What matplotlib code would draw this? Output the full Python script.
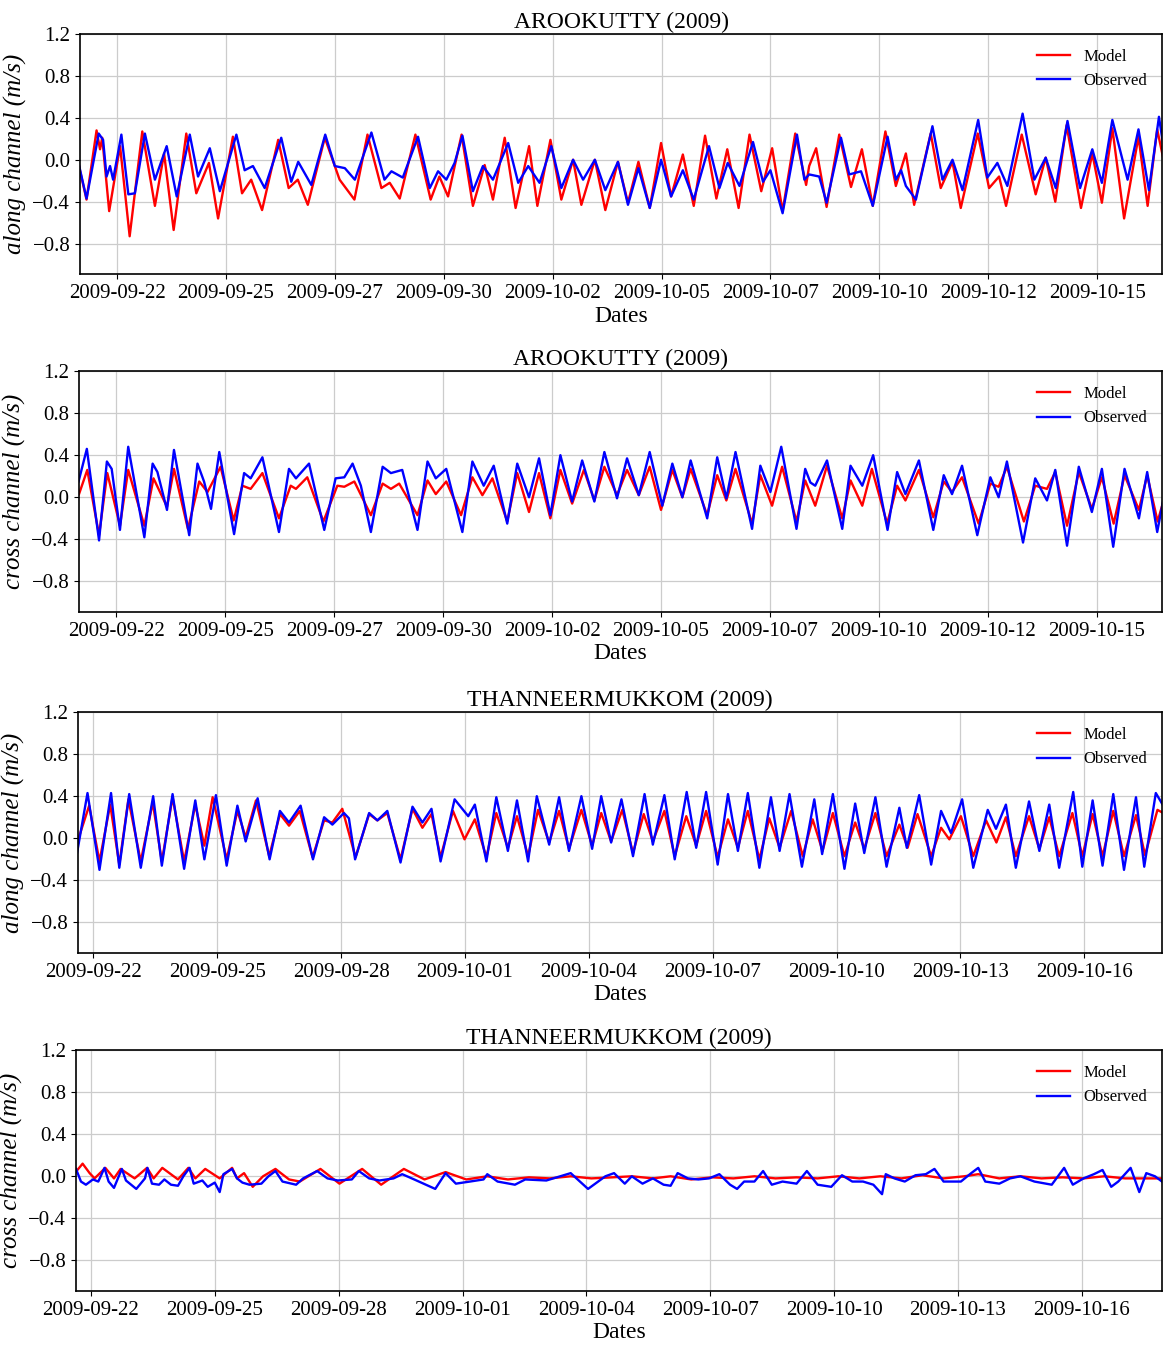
import numpy as np
import pandas as pd
import matplotlib
matplotlib.use("Agg")
import matplotlib.pyplot as plt
import matplotlib.dates as mdates

plt.rcParams['font.family'] = ['Liberation Serif', 'DejaVu Serif']
plt.rcParams['axes.unicode_minus'] = True

# times are days after 2009-09-22 00:00, values in m/s
T0 = pd.Timestamp("2009-09-22")

# --- AROOKUTTY, along channel ---
p1_model_t = [-0.39, -0.20, 0.03, 0.11, 0.16, 0.32, 0.57, 0.79, 1.08, 1.37, 1.58, 1.80, 2.09, 2.32,
              2.61, 2.82, 3.16, 3.37, 3.58, 3.83, 4.20, 4.44, 4.65, 4.88, 5.27, 5.61, 5.95, 6.25,
              6.57, 6.76, 6.99, 7.35, 7.70, 7.90, 8.10, 8.41, 8.67, 8.94, 9.13, 9.40, 9.65, 9.96,
              10.15, 10.45, 10.70, 10.97, 11.16, 11.47, 11.71, 12.00, 12.23, 12.47, 12.73, 12.99,
              13.22, 13.49, 13.74, 14.00, 14.26, 14.51, 14.77, 15.02, 15.29, 15.54, 15.78, 16.07,
              16.32, 16.39, 16.55, 16.79, 17.08, 17.35, 17.60, 17.85, 18.14, 18.38, 18.61, 18.80,
              19.18, 19.41, 19.68, 19.87, 20.26, 20.52, 20.75, 20.91, 21.27, 21.59, 21.82, 22.04,
              22.30, 22.63, 22.89, 23.11, 23.35, 23.62, 23.95, 24.16, 24.38, 24.51]
p1_model_v = [-0.03, -0.38, 0.28, 0.10, 0.21, -0.49, 0.13, -0.73, 0.27, -0.44, 0.06, -0.67, 0.25, -0.32,
              -0.03, -0.56, 0.22, -0.32, -0.19, -0.48, 0.19, -0.27, -0.19, -0.43, 0.21, -0.19, -0.38, 0.24,
              -0.27, -0.22, -0.37, 0.24, -0.38, -0.16, -0.35, 0.24, -0.44, -0.05, -0.38, 0.21, -0.46, 0.13,
              -0.44, 0.19, -0.38, 0.00, -0.43, 0.00, -0.48, -0.02, -0.41, -0.02, -0.46, 0.16,
              -0.35, 0.05, -0.44, 0.23, -0.37, 0.10, -0.46, 0.24, -0.30, 0.11, -0.49, 0.25,
              -0.24, -0.06, 0.11, -0.45, 0.24, -0.26, 0.10, -0.44, 0.27, -0.25, 0.06, -0.43,
              0.25, -0.27, -0.02, -0.46, 0.25, -0.27, -0.16, -0.44, 0.24, -0.33, 0.02, -0.40,
              0.33, -0.46, 0.06, -0.41, 0.30, -0.56, 0.22, -0.44, 0.29, 0.03]
p1_obs_t = [-0.39, -0.20, 0.08, 0.18, 0.26, 0.34, 0.41, 0.60, 0.76, 0.91, 1.14, 1.37, 1.64, 1.87,
            2.17, 2.36, 2.63, 2.86, 3.24, 3.43, 3.62, 3.89, 4.27, 4.50, 4.66, 4.96, 5.28, 5.50,
            5.73, 5.96, 6.34, 6.64, 6.80, 7.06, 7.41, 7.68, 7.87, 8.06, 8.25, 8.43, 8.67, 8.90,
            9.13, 9.48, 9.71, 9.94, 10.20, 10.47, 10.70, 10.97, 11.20, 11.47, 11.71, 12.00, 12.23,
            12.47, 12.73, 12.99, 13.22, 13.49, 13.74, 14.09, 14.33, 14.52, 14.79, 15.10, 15.33,
            15.50, 15.78, 16.11, 16.28, 16.39, 16.62, 16.79, 17.12, 17.31, 17.58, 17.85, 18.19,
            18.38, 18.50, 18.61, 18.84, 19.22, 19.45, 19.68, 19.91, 20.27, 20.48, 20.71, 20.94,
            21.29, 21.56, 21.82, 22.05, 22.32, 22.61, 22.89, 23.11, 23.35, 23.70, 23.95, 24.19,
            24.42, 24.51]
p1_obs_v = [-0.02, -0.37, 0.25, 0.19, -0.16, -0.06, -0.19, 0.24, -0.33, -0.32, 0.25, -0.19, 0.13, -0.35,
            0.24, -0.16, 0.11, -0.30, 0.24, -0.10, -0.06, -0.27, 0.21, -0.21, -0.02, -0.24, 0.24, -0.06,
            -0.08, -0.19, 0.26, -0.19, -0.11, -0.17, 0.22, -0.27, -0.11, -0.19, -0.03, 0.23, -0.30, -0.06,
            -0.19, 0.16, -0.22, -0.06, -0.22, 0.13, -0.27, 0.00, -0.19, 0.00, -0.29, -0.02, -0.43,
            -0.08, -0.46, 0.00, -0.35, -0.10, -0.38, 0.13, -0.27, -0.03, -0.25, 0.17, -0.21,
            -0.10, -0.51, 0.24, -0.19, -0.14, -0.16, -0.41, 0.21, -0.14, -0.11, -0.44, 0.22,
            -0.19, -0.10, -0.25, -0.38, 0.32, -0.19, 0.00, -0.29, 0.38, -0.17, -0.03, -0.25,
            0.44, -0.19, 0.02, -0.27, 0.37, -0.27, 0.10, -0.22, 0.38, -0.19, 0.29, -0.29,
            0.41, 0.16]

# --- AROOKUTTY, cross channel ---
p2_model_t = [-0.36, -0.17, 0.10, 0.29, 0.58, 0.77, 1.14, 1.35, 1.66, 1.82, 2.14, 2.40, 2.59, 2.89,
              3.19, 3.39, 3.58, 3.85, 4.23, 4.50, 4.62, 4.88, 5.25, 5.57, 5.73, 5.96, 6.34, 6.61,
              6.80, 6.99, 7.41, 7.64, 7.83, 8.07, 8.41, 8.67, 8.90, 9.13, 9.47, 9.70, 9.97, 10.20,
              10.46, 10.69, 10.96, 11.23, 11.47, 11.70, 11.99, 12.22, 12.49, 12.74, 13.00, 13.26,
              13.49, 13.68, 14.06, 14.29, 14.50, 14.71, 15.09, 15.28, 15.55, 15.78, 16.11, 16.31,
              16.54, 16.81, 17.16, 17.35, 17.62, 17.84, 18.19, 18.42, 18.61, 18.92, 19.25, 19.49,
              19.68, 19.91, 20.29, 20.56, 20.75, 20.94, 21.33, 21.59, 21.86, 22.05, 22.32, 22.59,
              22.89, 23.12, 23.39, 23.64, 23.97, 24.16, 24.40, 24.55]
p2_model_v = [0.03, 0.26, -0.36, 0.23, -0.27, 0.26, -0.27, 0.18, -0.09, 0.27, -0.30, 0.15, 0.05, 0.29,
              -0.22, 0.11, 0.08, 0.23, -0.20, 0.11, 0.08, 0.19, -0.23, 0.11, 0.10, 0.15, -0.17, 0.13,
              0.08, 0.13, -0.17, 0.16, 0.03, 0.15, -0.17, 0.19, 0.02, 0.18, -0.23, 0.23, -0.14, 0.23,
              -0.20, 0.26, -0.06, 0.26, -0.03, 0.29, 0.02, 0.26, 0.02, 0.29, -0.12, 0.26,
              0.00, 0.27, -0.17, 0.21, -0.03, 0.27, -0.25, 0.21, -0.08, 0.29, -0.23, 0.16,
              -0.08, 0.30, -0.20, 0.16, -0.08, 0.27, -0.25, 0.11, -0.03, 0.26, -0.19, 0.15,
              0.05, 0.19, -0.25, 0.13, 0.10, 0.29, -0.23, 0.11, 0.08, 0.24, -0.27, 0.24,
              -0.11, 0.19, -0.25, 0.21, -0.12, 0.21, -0.23, -0.01]
p2_obs_t = [-0.37, -0.18, 0.10, 0.28, 0.39, 0.58, 0.77, 1.14, 1.33, 1.44, 1.66, 1.82, 2.17, 2.36,
            2.51, 2.67, 2.86, 3.20, 3.43, 3.58, 3.85, 4.23, 4.46, 4.62, 4.92, 5.27, 5.53, 5.73,
            5.92, 6.11, 6.34, 6.61, 6.80, 7.06, 7.41, 7.64, 7.83, 8.07, 8.44, 8.67, 8.93, 9.16,
            9.47, 9.70, 9.97, 10.20, 10.46, 10.69, 10.96, 11.19, 11.47, 11.70, 11.99, 12.22, 12.49,
            12.74, 13.03, 13.26, 13.49, 13.68, 14.06, 14.29, 14.50, 14.71, 15.09, 15.28, 15.51,
            15.76, 16.11, 16.31, 16.43, 16.54, 16.81, 17.16, 17.35, 17.62, 17.87, 18.20, 18.42,
            18.61, 18.92, 19.25, 19.49, 19.68, 19.91, 20.26, 20.56, 20.75, 20.94, 21.31, 21.59,
            21.86, 22.05, 22.32, 22.59, 22.89, 23.12, 23.38, 23.64, 23.97, 24.16, 24.39, 24.55]
p2_obs_v = [0.15, 0.46, -0.41, 0.34, 0.27, -0.31, 0.48, -0.38, 0.32, 0.24, -0.12, 0.45, -0.36, 0.32,
            0.15, -0.11, 0.43, -0.35, 0.23, 0.18, 0.38, -0.33, 0.27, 0.18, 0.32, -0.31, 0.18, 0.19,
            0.32, 0.11, -0.33, 0.29, 0.23, 0.26, -0.31, 0.34, 0.18, 0.27, -0.33, 0.34, 0.11, 0.30,
            -0.25, 0.32, 0.00, 0.37, -0.17, 0.40, -0.04, 0.35, -0.04, 0.43, -0.01, 0.37, 0.02,
            0.43, -0.08, 0.32, 0.00, 0.35, -0.20, 0.38, -0.01, 0.43, -0.30, 0.30, 0.05,
            0.48, -0.30, 0.27, 0.14, 0.11, 0.35, -0.30, 0.30, 0.11, 0.40, -0.31, 0.24,
            0.03, 0.35, -0.31, 0.21, 0.03, 0.30, -0.36, 0.19, 0.00, 0.34, -0.43, 0.18,
            -0.03, 0.26, -0.46, 0.29, -0.14, 0.27, -0.47, 0.27, -0.20, 0.24, -0.33, 0.02]

# --- THANNEERMUKKOM, along channel ---
p3_model_t = [-0.42, -0.34, -0.10, 0.15, 0.41, 0.63, 0.85, 1.15, 1.44, 1.66, 1.92, 2.20, 2.47, 2.69,
              2.89, 3.23, 3.49, 3.69, 3.94, 4.26, 4.52, 4.74, 5.00, 5.31, 5.59, 5.79, 6.03, 6.35,
              6.68, 6.88, 7.12, 7.44, 7.73, 7.97, 8.19, 8.41, 8.71, 8.99, 9.24, 9.52, 9.76, 10.04,
              10.26, 10.53, 10.77, 11.04, 11.28, 11.52, 11.82, 12.08, 12.30, 12.54, 12.81, 13.07,
              13.33, 13.55, 13.83, 14.08, 14.36, 14.60, 14.84, 15.12, 15.37, 15.61, 15.85, 16.13,
              16.37, 16.62, 16.90, 17.18, 17.42, 17.66, 17.91, 18.19, 18.45, 18.67, 18.94, 19.21,
              19.52, 19.72, 19.96, 20.29, 20.53, 20.73, 21.01, 21.31, 21.62, 21.87, 22.10, 22.34,
              22.66, 22.91, 23.15, 23.39, 23.71, 23.95, 24.20, 24.44, 24.70, 24.96, 25.25, 25.47,
              25.77, 25.91]
p3_model_v = [-0.17, 0.02, 0.31, -0.22, 0.32, -0.25, 0.37, -0.22, 0.34, -0.22, 0.39, -0.22, 0.32, -0.07,
              0.39, -0.20, 0.26, 0.01, 0.36, -0.17, 0.23, 0.12, 0.26, -0.18, 0.17, 0.15, 0.28, -0.18,
              0.23, 0.17, 0.24, -0.20, 0.28, 0.10, 0.23, -0.18, 0.26, -0.01, 0.18, -0.18, 0.24, -0.09,
              0.21, -0.17, 0.27, -0.04, 0.26, -0.10, 0.27, -0.07, 0.24, -0.03, 0.27, -0.14,
              0.23, -0.03, 0.26, -0.17, 0.21, -0.07, 0.26, -0.18, 0.18, -0.09, 0.26, -0.20,
              0.19, -0.09, 0.26, -0.17, 0.18, -0.12, 0.24, -0.17, 0.15, -0.10, 0.24, -0.17,
              0.13, -0.09, 0.23, -0.17, 0.10, -0.01, 0.21, -0.17, 0.17, -0.04, 0.20, -0.17,
              0.21, -0.10, 0.20, -0.17, 0.24, -0.17, 0.23, -0.17, 0.26, -0.17, 0.22, -0.16,
              0.27, 0.24]
p3_obs_t = [-0.42, -0.14, 0.15, 0.43, 0.63, 0.87, 1.15, 1.45, 1.66, 1.92, 2.20, 2.47, 2.69, 2.97,
            3.23, 3.49, 3.69, 3.98, 4.27, 4.52, 4.74, 5.02, 5.32, 5.59, 5.79, 6.07, 6.19, 6.34,
            6.68, 6.88, 7.12, 7.44, 7.73, 7.97, 8.19, 8.41, 8.75, 9.08, 9.24, 9.52, 9.76, 10.04,
            10.26, 10.53, 10.74, 11.04, 11.28, 11.52, 11.82, 12.08, 12.30, 12.54, 12.79, 13.07,
            13.35, 13.55, 13.83, 14.08, 14.37, 14.60, 14.84, 15.12, 15.37, 15.61, 15.85, 16.13,
            16.41, 16.62, 16.86, 17.16, 17.46, 17.65, 17.91, 18.19, 18.45, 18.67, 18.94, 19.21,
            19.52, 19.70, 20.00, 20.29, 20.53, 20.77, 21.04, 21.31, 21.66, 21.86, 22.10, 22.34,
            22.66, 22.91, 23.15, 23.39, 23.73, 23.95, 24.20, 24.44, 24.70, 24.96, 25.25, 25.45,
            25.73, 25.91]
p3_obs_v = [-0.20, 0.43, -0.30, 0.43, -0.28, 0.42, -0.28, 0.40, -0.26, 0.42, -0.29, 0.36, -0.20, 0.41,
            -0.26, 0.31, -0.03, 0.38, -0.20, 0.26, 0.15, 0.31, -0.20, 0.20, 0.13, 0.24, 0.19, -0.20,
            0.24, 0.17, 0.26, -0.23, 0.30, 0.15, 0.28, -0.22, 0.37, 0.21, 0.32, -0.22, 0.39, -0.12,
            0.36, -0.22, 0.40, -0.06, 0.39, -0.12, 0.40, -0.10, 0.40, -0.04, 0.37, -0.17,
            0.42, -0.06, 0.41, -0.20, 0.44, -0.09, 0.44, -0.25, 0.42, -0.12, 0.43, -0.28,
            0.39, -0.12, 0.42, -0.27, 0.37, -0.15, 0.42, -0.29, 0.33, -0.14, 0.39, -0.27,
            0.29, -0.09, 0.41, -0.25, 0.26, 0.05, 0.37, -0.28, 0.27, 0.09, 0.32, -0.28,
            0.35, -0.12, 0.32, -0.28, 0.44, -0.27, 0.36, -0.26, 0.42, -0.30, 0.39, -0.27,
            0.43, 0.31]

# --- THANNEERMUKKOM, cross channel ---
p4_model_t = [-0.41, -0.20, -0.03, 0.09, 0.35, 0.56, 0.72, 1.06, 1.36, 1.52, 1.73, 2.11, 2.36, 2.53,
              2.77, 3.12, 3.42, 3.54, 3.71, 3.92, 4.17, 4.47, 4.80, 5.06, 5.56, 6.02, 6.57, 7.03,
              7.58, 8.08, 8.59, 9.09, 9.60, 10.10, 10.61, 11.11, 11.62, 12.12, 12.63, 13.10, 13.61,
              14.04, 14.54, 15.05, 15.56, 16.07, 16.58, 17.09, 17.60, 18.10, 18.61, 19.12, 19.63,
              20.14, 20.65, 21.15, 21.49, 22.00, 22.51, 23.02, 23.53, 24.04, 24.54, 25.05, 25.56,
              25.94]
p4_model_v = [0.02, 0.12, 0.03, -0.02, 0.08, -0.02, 0.07, -0.02, 0.08, -0.02, 0.08, -0.03, 0.08, -0.02,
              0.07, -0.02, 0.08, -0.02, 0.03, -0.10, 0.00, 0.07, -0.03, -0.05, 0.07, -0.07, 0.07, -0.08,
              0.07, -0.03, 0.04, -0.03, 0.00, -0.03, -0.01, -0.02, 0.00, -0.02, -0.01, 0.00, -0.02,
              0.00, -0.03, -0.01, -0.02, 0.00, -0.02, -0.01, -0.02, 0.00, -0.02, 0.00, -0.02,
              0.01, -0.02, 0.00, 0.02, -0.02, 0.00, -0.02, -0.01, -0.02, 0.00, -0.02, -0.02,
              -0.02]
p4_obs_t = [-0.36, -0.24, -0.12, 0.05, 0.18, 0.33, 0.43, 0.56, 0.75, 0.85, 1.10, 1.31, 1.37, 1.48,
            1.65, 1.78, 1.94, 2.11, 2.24, 2.39, 2.49, 2.70, 2.83, 3.00, 3.12, 3.21, 3.42, 3.54,
            3.67, 3.84, 4.13, 4.30, 4.47, 4.64, 4.97, 5.14, 5.48, 5.73, 5.98, 6.32, 6.49, 6.74,
            6.99, 7.33, 7.54, 7.83, 8.00, 8.34, 8.59, 8.84, 9.18, 9.51, 9.60, 9.85, 10.27, 10.52,
            11.03, 11.62, 12.04, 12.46, 12.67, 12.93, 13.10, 13.36, 13.61, 13.87, 14.04, 14.21,
            14.46, 14.71, 14.97, 15.22, 15.48, 15.65, 15.82, 16.07, 16.28, 16.49, 16.75, 17.09,
            17.34, 17.60, 17.93, 18.19, 18.44, 18.70, 18.95, 19.16, 19.25, 19.46, 19.71, 19.97,
            20.22, 20.43, 20.65, 21.07, 21.32, 21.49, 21.66, 22.00, 22.26, 22.51, 22.85, 23.27,
            23.57, 23.78, 24.04, 24.29, 24.50, 24.71, 24.88, 25.18, 25.39, 25.56, 25.77, 25.94]
p4_obs_v = [0.07, -0.05, -0.08, -0.03, -0.05, 0.08, -0.05, -0.11, 0.07, -0.04, -0.12, -0.02, 0.08, -0.07,
            -0.08, -0.03, -0.08, -0.09, 0.00, 0.08, -0.07, -0.04, -0.10, -0.06, -0.15, 0.02, 0.07, -0.02,
            -0.06, -0.08, -0.07, 0.00, 0.05, -0.05, -0.08, -0.02, 0.05, -0.02, -0.04, -0.03, 0.05, -0.02,
            -0.04, -0.02, 0.02, -0.03, -0.06, -0.12, 0.03, -0.07, -0.05, -0.03, 0.02, -0.05, -0.08, -0.03,
            -0.04, 0.03, -0.12, 0.00, 0.03, -0.07, 0.00, -0.07, -0.02, -0.08, -0.09, 0.03,
            -0.02, -0.03, -0.02, 0.02, -0.08, -0.12, -0.05, -0.05, 0.05, -0.08, -0.05, -0.07,
            0.05, -0.08, -0.10, 0.01, -0.05, -0.05, -0.08, -0.17, 0.02, -0.02, -0.05, 0.01,
            0.02, 0.07, -0.05, -0.05, 0.03, 0.08, -0.05, -0.07, -0.02, 0.00, -0.05, -0.08,
            0.08, -0.08, -0.02, 0.02, 0.06, -0.10, -0.05, 0.08, -0.15, 0.03, 0.00, -0.05]

titles = ["AROOKUTTY (2009)", "AROOKUTTY (2009)", "THANNEERMUKKOM (2009)", "THANNEERMUKKOM (2009)"]
ylabels = ["along channel (m/s)", "cross channel (m/s)", "along channel (m/s)", "cross channel (m/s)"]
yticks = [-0.8, -0.4, 0.0, 0.4, 0.8, 1.2]

# tick dates: the first two panels step 2.5 days, the last two 3 days
ticks_a = pd.date_range("2009-09-22 12:00", periods=10, freq="60h")
ticks_b = pd.date_range("2009-09-22", periods=9, freq="3D")


def to_dates(days):
    return (T0 + pd.to_timedelta(np.asarray(days), unit="D")).values


panels = [
    (p1_model_t, p1_model_v, p1_obs_t, p1_obs_v, ticks_a, (-0.35, 24.49)),
    (p2_model_t, p2_model_v, p2_obs_t, p2_obs_v, ticks_a, (-0.36, 24.50)),
    (p3_model_t, p3_model_v, p3_obs_t, p3_obs_v, ticks_b, (-0.37, 25.88)),
    (p4_model_t, p4_model_v, p4_obs_t, p4_obs_v, ticks_b, (-0.36, 25.94)),
]

# axes boxes in pixels: left, top, bottom (right edge shared)
boxes = [(80, 34, 274), (79, 371, 612), (78, 712, 953), (76, 1050, 1291)]
W, H = 1164, 1345
RIGHT = 1162

fig = plt.figure(figsize=(W / 100, H / 100), dpi=100)

for i, (mt, mv, ot, ov, ticks, xl) in enumerate(panels):
    left, top, bottom = boxes[i]
    ax = fig.add_axes([left / W, 1 - bottom / H, (RIGHT - left) / W, (bottom - top) / H])

    ax.plot(to_dates(mt), mv, color="red", lw=1.7, solid_joinstyle="round", label="Model")
    ax.plot(to_dates(ot), ov, color="blue", lw=1.7, solid_joinstyle="round", label="Observed")

    ax.set_xlim(T0 + pd.Timedelta(days=xl[0]), T0 + pd.Timedelta(days=xl[1]))
    ax.set_ylim(-1.09, 1.2)
    ax.set_yticks(yticks)
    ax.set_xticks(ticks)
    ax.xaxis.set_major_formatter(mdates.DateFormatter("%Y-%m-%d"))

    ax.grid(True, color="#cccccc", lw=0.9)
    ax.set_axisbelow(True)
    for s in ax.spines.values():
        s.set_linewidth(1.2)
    ax.tick_params(labelsize=15)

    ax.set_title(titles[i], fontsize=17, pad=4)
    ax.set_xlabel("Dates", fontsize=17, labelpad=2)
    ax.set_ylabel(ylabels[i], fontsize=18, fontstyle="italic", labelpad=4)
    ax.legend(loc="upper right", frameon=False, fontsize=12, handlelength=2.0)

fig.savefig("out.png", dpi=100)
